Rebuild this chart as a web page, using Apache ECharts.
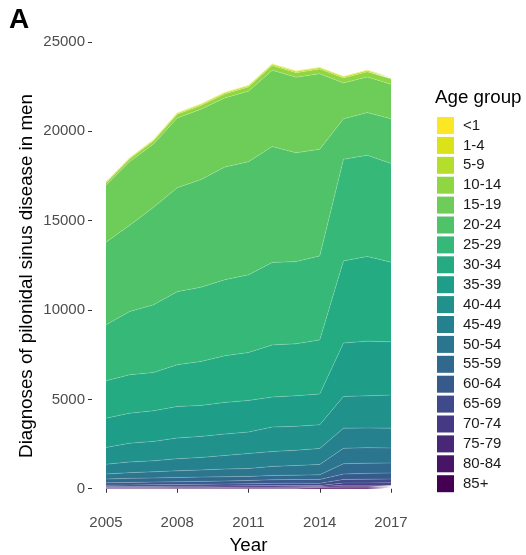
<!DOCTYPE html>
<html>
<head>
<meta charset="utf-8">
<script src="https://cdn.jsdelivr.net/npm/echarts@6/dist/echarts.min.js"></script>
<style>
  html, body { margin: 0; padding: 0; background: #fff; }
  #chart { width: 526px; height: 555px; }
</style>
</head>
<body>
<div id="chart"></div>
<script>
// Yearly diagnoses of pilonidal sinus disease in men, by age group
const years = ['2005', '2006', '2007', '2008', '2009', '2010', '2011', '2012', '2013', '2014', '2015', '2016', '2017'];

const ageUnder1 = [12, 14, 15, 15, 16, 16, 17, 18, 17, 17, 16, 16, 15];
const age1to4   = [20, 22, 24, 25, 26, 27, 28, 30, 30, 30, 29, 29, 28];
const age5to9   = [45, 50, 55, 60, 62, 65, 68, 72, 70, 72, 70, 72, 70];
const age10to14 = [130, 150, 170, 200, 210, 225, 235, 260, 255, 265, 280, 290, 300];
const age15to19 = [3190, 3560, 3540, 3900, 3940, 3870, 3950, 4270, 4230, 4220, 2005, 1990, 1940];
const age20to24 = [4630, 4830, 5460, 5820, 6020, 6310, 6330, 6490, 6090, 5970, 2260, 2390, 2500];
const age25to29 = [3130, 3540, 3790, 4090, 4160, 4250, 4350, 4610, 4600, 4700, 5690, 5660, 5520];
const age30to34 = [2090, 2150, 2140, 2340, 2460, 2610, 2680, 2920, 2910, 3030, 4600, 4740, 4460];
const age35to39 = [1640, 1680, 1710, 1760, 1730, 1770, 1770, 1680, 1710, 1720, 2990, 3060, 2980];
const age40to44 = [940, 1050, 1090, 1160, 1180, 1200, 1200, 1370, 1340, 1330, 1770, 1800, 1850];
const age45to49 = [550, 600, 610, 680, 700, 760, 840, 830, 850, 890, 1130, 1100, 1110];
const age50to54 = [280, 320, 350, 370, 400, 430, 440, 510, 540, 580, 860, 870, 840];
const age55to59 = [210, 230, 230, 240, 240, 240, 230, 240, 240, 260, 580, 570, 560];
const age60to64 = [130, 140, 150, 155, 165, 170, 185, 200, 210, 220, 300, 330, 340];
const age65to69 = [80, 85, 90, 95, 100, 105, 110, 120, 125, 115, 200, 205, 210];
const age70to74 = [50, 53, 55, 60, 63, 67, 70, 80, 80, 65, 130, 130, 130];
const age75to79 = [30, 31, 32, 35, 35, 38, 42, 43, 45, 30, 80, 83, 85];
const age80to84 = [22, 22, 23, 24, 25, 27, 28, 30, 32, 25, 55, 56, 57];
const age85plus = [18, 19, 20, 21, 22, 23, 25, 27, 28, 65, 55, 56, 58];

// Legend order (youngest first)
const ageGroups = ['<1', '1-4', '5-9', '10-14', '15-19', '20-24', '25-29', '30-34', '35-39',
  '40-44', '45-49', '50-54', '55-59', '60-64', '65-69', '70-74', '75-79', '80-84', '85+'];
const groupValues = [ageUnder1, age1to4, age5to9, age10to14, age15to19, age20to24, age25to29,
  age30to34, age35to39, age40to44, age45to49, age50to54, age55to59, age60to64, age65to69,
  age70to74, age75to79, age80to84, age85plus];
// viridis palette, yellow for the youngest through purple for the oldest
const groupColors = ['#fde725', '#dbe21a', '#b5de2c', '#90d643', '#6ecd58', '#50c36a', '#36b878',
  '#25ab82', '#1e9d88', '#21918c', '#26818e', '#2b758e', '#31688e', '#38598c', '#3e4a89',
  '#443982', '#482777', '#471467', '#440154'];

const yTicks = [0, 5000, 10000, 15000, 20000, 25000];

// Stack from the oldest group at the bottom up to the youngest at the top
const series = [];
for (let i = ageGroups.length - 1; i >= 0; i--) {
  series.push({
    name: ageGroups[i],
    type: 'line',
    stack: 'total',
    symbol: 'none',
    showSymbol: false,
    smooth: false,
    itemStyle: { color: groupColors[i] },
    lineStyle: { width: 0.6, color: 'rgba(255,255,255,0.3)' },
    areaStyle: { color: groupColors[i], opacity: 1 },
    emphasis: { disabled: true },
    data: groupValues[i]
  });
}

const FONT = 'Liberation Sans, Arial, sans-serif';
const TITLE_SIZE = 18.75;
const LABEL_SIZE = 15;
const chart = echarts.init(document.getElementById('chart'), null, { renderer: 'canvas' });
chart.setOption({
  animation: false,
  backgroundColor: '#ffffff',
  grid: { left: 106, right: 135, top: 42, bottom: 45, containLabel: false, outerBoundsMode: 'none' },
  xAxis: {
    type: 'category',
    data: years,
    boundaryGap: false,
    name: 'Year',
    nameLocation: 'middle',
    nameGap: 26,
    nameMoveOverlap: false,
    nameTextStyle: { color: '#000', fontSize: TITLE_SIZE, fontFamily: FONT },
    axisLine: { show: false },
    splitLine: { show: false },
    axisTick: { show: true, length: 4, interval: 2, lineStyle: { color: '#333', width: 1 } },
    axisLabel: { interval: 2, margin: 5, color: '#4d4d4d', fontSize: LABEL_SIZE, fontFamily: FONT }
  },
  yAxis: {
    type: 'value',
    min: -1190,
    max: 25000,
    offset: 14,
    name: 'Diagnoses of pilonidal sinus disease in men',
    nameLocation: 'middle',
    nameGap: 56,
    nameRotate: 90,
    nameMoveOverlap: false,
    nameTextStyle: { color: '#000', fontSize: TITLE_SIZE, fontFamily: FONT },
    axisLine: { show: false },
    splitLine: { show: false },
    axisTick: { show: true, length: 4, customValues: yTicks, lineStyle: { color: '#333', width: 1 } },
    axisLabel: {
      customValues: yTicks,
      margin: 7,
      color: '#4d4d4d',
      fontSize: LABEL_SIZE,
      fontFamily: FONT,
      formatter: v => String(v)
    }
  },
  legend: {
    orient: 'vertical',
    left: 432,
    top: 112,
    icon: 'rect',
    itemWidth: 17,
    itemHeight: 17,
    itemGap: 2.9,
    selectedMode: false,
    data: ageGroups,
    textStyle: { color: '#1a1a1a', fontSize: LABEL_SIZE, fontFamily: FONT, padding: [0, 0, 0, 4] }
  },
  graphic: [
    {
      type: 'text', left: 9, top: 6,
      style: { text: 'A', fill: '#000', font: 'bold 28px "Liberation Sans", Arial, sans-serif' }
    },
    {
      type: 'text', left: 435, top: 88,
      style: { text: 'Age group', fill: '#000', font: TITLE_SIZE + 'px "Liberation Sans", Arial, sans-serif' }
    }
  ],
  series: series
});
</script>
</body>
</html>
